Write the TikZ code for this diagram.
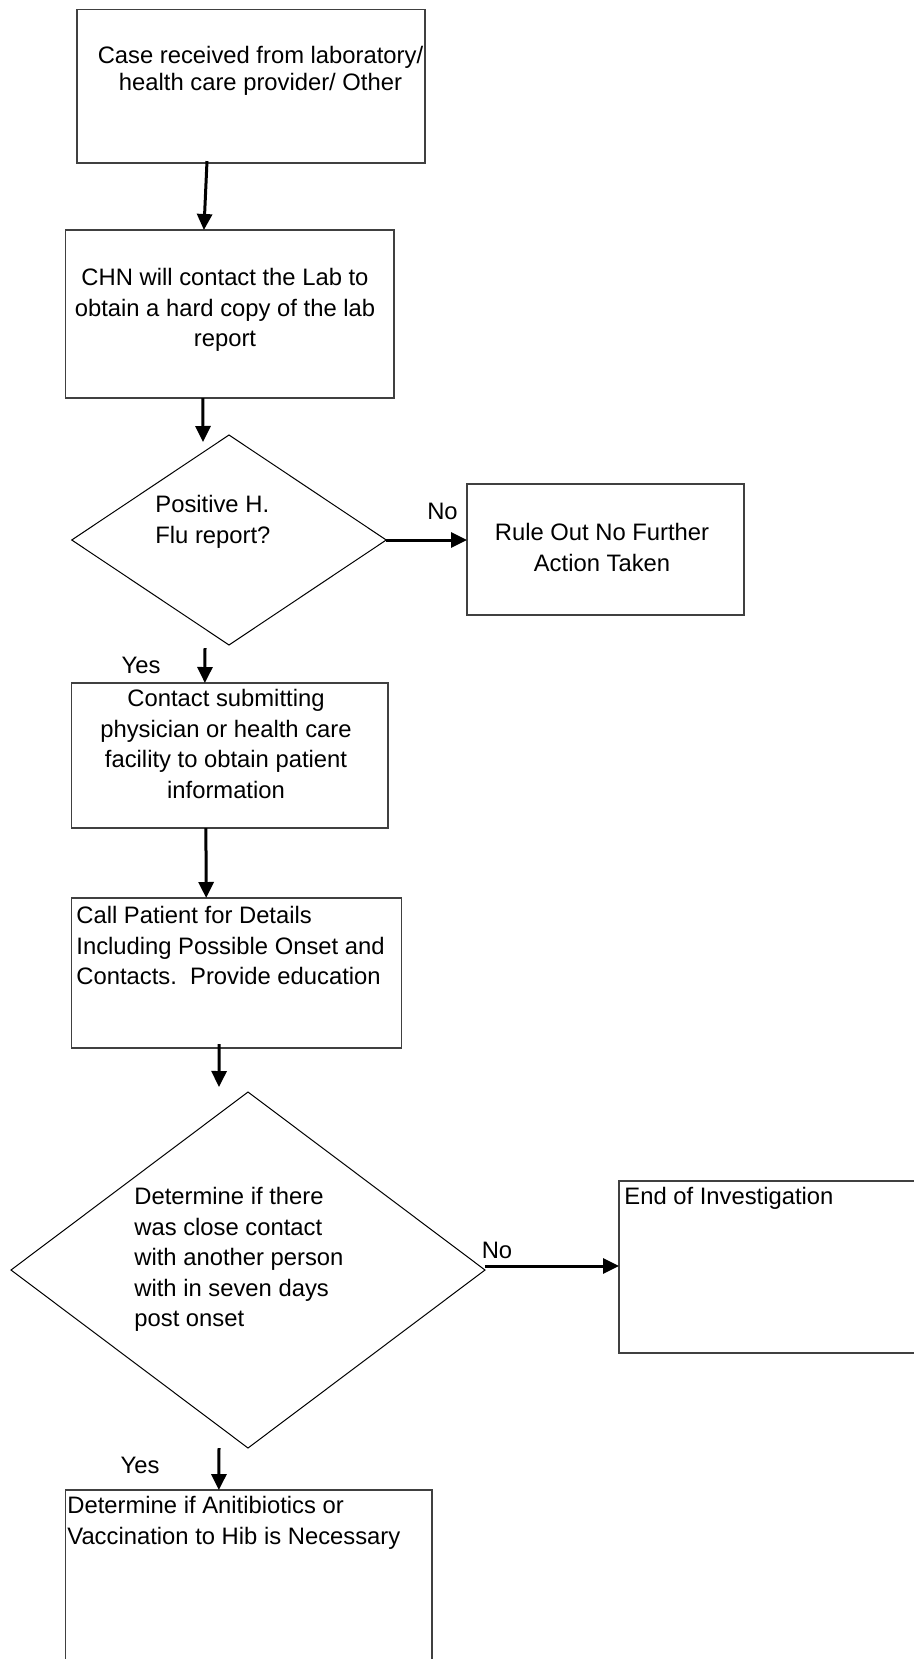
\documentclass[tikz,border=0pt]{standalone}
\usepackage{fontspec}
\setmainfont{Liberation Sans}
\usetikzlibrary{shapes.geometric, arrows.meta}
\tikzstyle{process} = [rectangle, draw=black!75, line width=0.6pt, inner sep=0pt, outer sep=0pt]
\tikzstyle{decision} = [diamond, draw=black, line width=0.5pt, inner sep=0pt, outer sep=0pt]
\tikzstyle{boxtext} = [inner sep=0pt, font=\fontsize{11.9pt}{15.25pt}\selectfont]
\tikzstyle{answer} = [inner sep=0pt, anchor=base, font=\fontsize{11.9pt}{15.25pt}\selectfont]
\tikzstyle{arrow} = [line width=1.5pt, -{Triangle[length=8pt,width=7.5pt]}]

\begin{document}
\begin{tikzpicture}[x=0.5pt, y=-0.5pt]
\useasboundingbox (0,0) rectangle (914,1659);

% Column 1 - Case intake
\node (caseRec) [process, minimum width=174pt, minimum height=76.85pt] at (251,86.2) {};
\node (caseRecTxt) [boxtext, align=center, anchor=north, font=\fontsize{11.9pt}{13.65pt}\selectfont] at (260.5,46) {Case received from laboratory/\\health care provider/ Other};

\node (chn) [process, minimum width=164.15pt, minimum height=84pt] at (229.9,314) {};
\node (chnTxt) [boxtext, align=center, anchor=north] at (225,268) {CHN will contact the Lab to\\obtain a hard copy of the lab\\report};

% First question
\node (posFlu) [decision, minimum width=157.25pt, minimum height=105pt] at (229,540) {};
\node (posFluTxt) [boxtext, align=left, anchor=north west] at (155,495) {Positive H.\\Flu report?};

\node (ruleOut) [process, minimum width=138.5pt, minimum height=65.5pt] at (605.5,549.5) {};
\node (ruleOutTxt) [boxtext, align=center, anchor=north] at (602,523) {Rule Out No Further\\Action Taken};

% Column 1 - Follow up
\node (contact) [process, minimum width=158.15pt, minimum height=72.5pt] at (229.9,755.5) {};
\node (contactTxt) [boxtext, align=center, anchor=north] at (226,689) {Contact submitting\\physician or health care\\facility to obtain patient\\information};

\node (callPat) [process, minimum width=165pt, minimum height=75pt] at (236.7,973) {};
\node (callPatTxt) [boxtext, align=left, anchor=north west] at (76,906) {Call Patient for Details\\Including Possible Onset and\\Contacts.\ \ Provide education};

% Second question
\node (contactQ) [decision, minimum width=237pt, minimum height=178pt] at (248,1270) {};
\node (contactQTxt) [boxtext, align=left, anchor=north west] at (134,1187) {Determine if there\\was close contact\\with another person\\with in seven days\\post onset};

\node (endInv) [process, minimum width=160.5pt, minimum height=86pt] at (779.5,1267) {};
\node (endInvTxt) [boxtext, anchor=north west] at (624,1187) {End of Investigation};

\node (need) [process, minimum width=183.15pt, minimum height=105pt] at (248.9,1595) {};
\node (needTxt) [boxtext, align=left, anchor=north west] at (67,1496) {Determine if Anitibiotics or\\Vaccination to Hib is Necessary};

% Yes / No labels
\node (noFlu) [answer] at (442.5,519) {No};
\node (yesFlu) [answer] at (141,673) {Yes};
\node (noContact) [answer] at (497,1258) {No};
\node (yesContact) [answer] at (140,1473) {Yes};

% Arrows
\draw [arrow] ([xshift=-22pt,yshift=1pt]caseRec.south) -- ([xshift=-13pt]chn.north);
\draw [arrow] ([xshift=-13.5pt]chn.south) -- ([xshift=-13pt,yshift=-3.5pt]posFlu.north);
\draw [arrow] (posFlu.east) -- (posFlu.east -| ruleOut.west);
\draw [arrow] ([xshift=-12pt,yshift=-1.5pt]posFlu.south) -- ([xshift=-12.5pt]contact.north);
\draw [arrow] ([xshift=-12pt]contact.south) -- ([xshift=-15.25pt]callPat.north);
\draw [arrow] ([xshift=-8.75pt,yshift=2pt]callPat.south) -- ([xshift=-14.5pt,yshift=2.5pt]contactQ.north);
\draw [arrow] ([yshift=2pt]contactQ.east) -- ([yshift=2pt]contactQ.east -| endInv.west);
\draw [arrow] ([xshift=-14.5pt]contactQ.south) -- ([xshift=-15pt]need.north);

\end{tikzpicture}
\end{document}
